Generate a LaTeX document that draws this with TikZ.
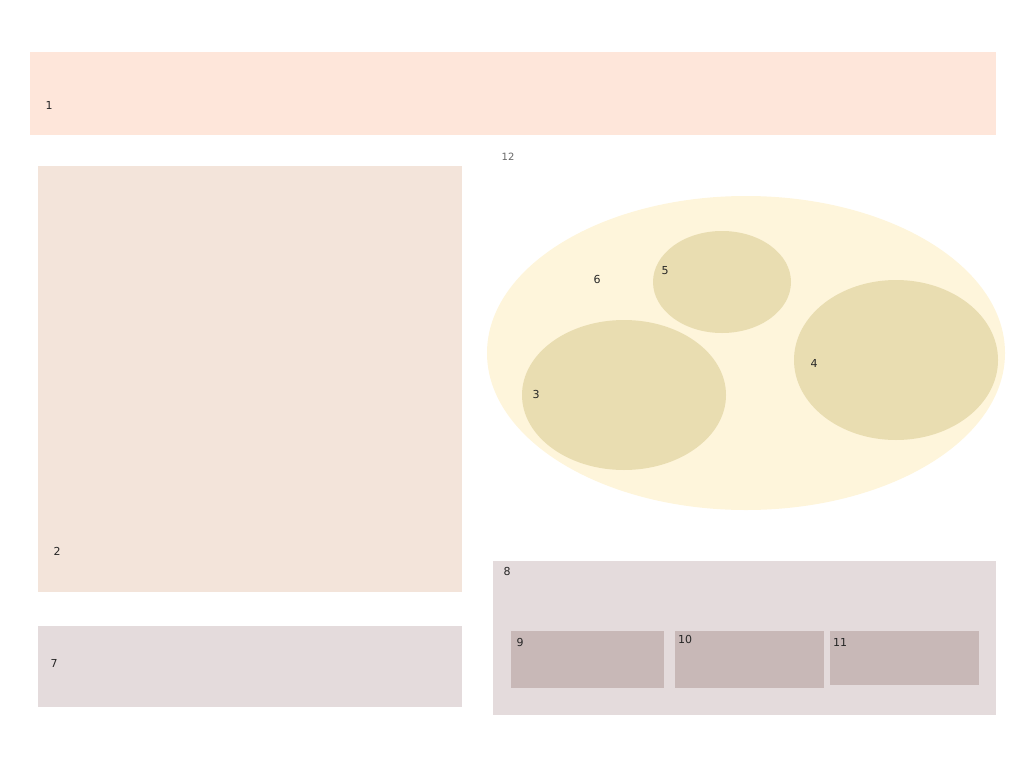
\documentclass[tikz,border=0pt]{standalone}
\usepackage{fontspec}
\setmainfont{DejaVu Sans}
\usetikzlibrary{shapes.geometric}
\definecolor{cTop}{HTML}{FEE6DA}
\definecolor{cLeft}{HTML}{F3E4DA}
\definecolor{cGray}{HTML}{E4DBDC}
\definecolor{cDark}{HTML}{C8B8B7}
\definecolor{cEll}{HTML}{FEF5DB}
\definecolor{cIn}{HTML}{E9DDB1}
\tikzset{
  lbl/.style={font=\fontsize{11}{12}\selectfont, text=black!85, inner sep=0pt},
  lblsmall/.style={font=\fontsize{10}{11}\selectfont, text=black!60, inner sep=0pt},
}
\begin{document}
\begin{tikzpicture}[x=1pt,y=-1pt]
\useasboundingbox (0,0) rectangle (1024,768);
% boxes
\fill[cTop] (30,52) rectangle (996,135);
\fill[cLeft] (38,166) rectangle (462,592);
\fill[cGray] (38,626) rectangle (462,707);
\fill[cGray] (493,561) rectangle (996,715);
\fill[cDark] (511,631) rectangle (664,688);
\fill[cDark] (675,631) rectangle (824,688);
\fill[cDark] (830,631) rectangle (979,685);
% ellipses
\fill[cEll] (746,353) ellipse [x radius=259, y radius=157];
\fill[cIn] (722,282) ellipse [x radius=69, y radius=51];
\fill[cIn] (624,395) ellipse [x radius=102, y radius=75];
\fill[cIn] (896,360) ellipse [x radius=102, y radius=80];
% labels
\node[lbl] (n1) at (49,105) {1};
\node[lbl] (n2) at (57,551) {2};
\node[lbl] (n3) at (536,394) {3};
\node[lbl] (n4) at (814,363) {4};
\node[lbl] (n5) at (665,271) {5};
\node[lbl] (n6) at (597,279) {6};
\node[lbl] (n7) at (54,663) {7};
\node[lbl] (n8) at (507,571) {8};
\node[lbl] (n9) at (520,642) {9};
\node[lbl] (n10) at (685,639) {10};
\node[lbl] (n11) at (840,642) {11};
\node[lblsmall] (n12) at (508,157) {12};
\end{tikzpicture}
\end{document}
